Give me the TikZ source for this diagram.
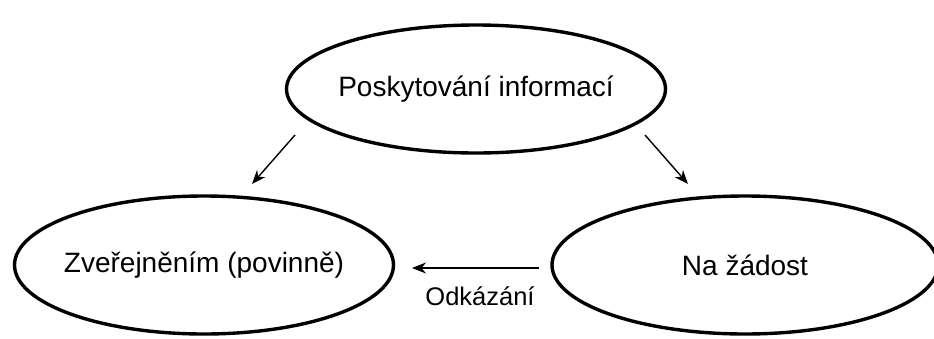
\documentclass[tikz,border=0pt]{standalone}
\usepackage{fontspec}
\setmainfont{Liberation Sans}
\usetikzlibrary{shapes.geometric,arrows.meta}
\newcommand{\zerow}[1]{\makebox[0pt][c]{#1}}
\begin{document}
\begin{tikzpicture}[x=1pt,y=-1pt,
  oval/.style={draw=black,line width=3.4pt,ellipse,inner sep=0pt,font=\fontsize{28}{33}\selectfont},
  conn/.style={line width=1.4pt,-{Stealth[length=14pt,width=11pt]}},
  lbl/.style={font=\fontsize{25.5}{30}\selectfont,inner sep=0pt}]
\useasboundingbox (0,0) rectangle (934,338);
\node[oval,minimum width=379pt,minimum height=128pt] (top) at (476,89) {\zerow{Poskytování informací}};
\node[oval,minimum width=379pt,minimum height=138pt] (left) at (204,265) {\zerow{Zveřejněním (povinně)}};
\node[oval,minimum width=386pt,minimum height=138pt] (right) at (745,265) {\zerow{Na žádost}};
\coordinate (a1s) at (295,135);
\coordinate (a1e) at (252,184);
\coordinate (a2s) at (645,135);
\coordinate (a2e) at (688,184);
\coordinate (a3s) at (539,268);
\coordinate (a3e) at (412,268);
\draw[conn] (a1s) -- (a1e);
\draw[conn] (a2s) -- (a2e);
\draw[conn] (a3s) -- (a3e);
\node[lbl] (odk) at (480,296) {Odkázání};
\end{tikzpicture}
\end{document}
